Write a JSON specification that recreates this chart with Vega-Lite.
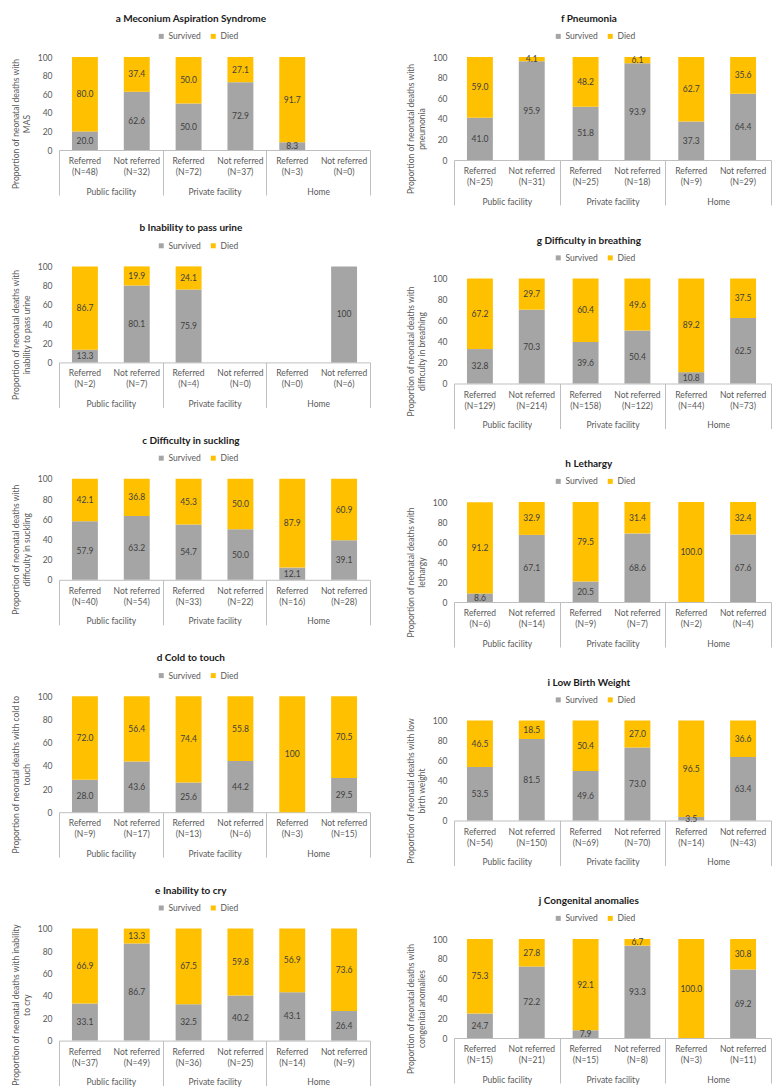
{
  "$schema": "https://vega.github.io/schema/vega-lite/v6.json",
  "padding": {"left": 11, "top": 14, "right": 5, "bottom": 5},
  "background": "white",
  "datasets": {
    "bars": [
      {"p": "a", "g": "Public facility", "r": "Referred", "o": "Survived", "v": 20.0},
      {"p": "a", "g": "Public facility", "r": "Referred", "o": "Died", "v": 80.0},
      {"p": "a", "g": "Public facility", "r": "Not referred", "o": "Survived", "v": 62.6},
      {"p": "a", "g": "Public facility", "r": "Not referred", "o": "Died", "v": 37.4},
      {"p": "a", "g": "Private facility", "r": "Referred", "o": "Survived", "v": 50.0},
      {"p": "a", "g": "Private facility", "r": "Referred", "o": "Died", "v": 50.0},
      {"p": "a", "g": "Private facility", "r": "Not referred", "o": "Survived", "v": 72.9},
      {"p": "a", "g": "Private facility", "r": "Not referred", "o": "Died", "v": 27.1},
      {"p": "a", "g": "Home", "r": "Referred", "o": "Survived", "v": 8.3},
      {"p": "a", "g": "Home", "r": "Referred", "o": "Died", "v": 91.7},

      {"p": "b", "g": "Public facility", "r": "Referred", "o": "Survived", "v": 13.3},
      {"p": "b", "g": "Public facility", "r": "Referred", "o": "Died", "v": 86.7},
      {"p": "b", "g": "Public facility", "r": "Not referred", "o": "Survived", "v": 80.1},
      {"p": "b", "g": "Public facility", "r": "Not referred", "o": "Died", "v": 19.9},
      {"p": "b", "g": "Private facility", "r": "Referred", "o": "Survived", "v": 75.9},
      {"p": "b", "g": "Private facility", "r": "Referred", "o": "Died", "v": 24.1},
      {"p": "b", "g": "Home", "r": "Not referred", "o": "Survived", "v": 100},

      {"p": "c", "g": "Public facility", "r": "Referred", "o": "Survived", "v": 57.9},
      {"p": "c", "g": "Public facility", "r": "Referred", "o": "Died", "v": 42.1},
      {"p": "c", "g": "Public facility", "r": "Not referred", "o": "Survived", "v": 63.2},
      {"p": "c", "g": "Public facility", "r": "Not referred", "o": "Died", "v": 36.8},
      {"p": "c", "g": "Private facility", "r": "Referred", "o": "Survived", "v": 54.7},
      {"p": "c", "g": "Private facility", "r": "Referred", "o": "Died", "v": 45.3},
      {"p": "c", "g": "Private facility", "r": "Not referred", "o": "Survived", "v": 50.0},
      {"p": "c", "g": "Private facility", "r": "Not referred", "o": "Died", "v": 50.0},
      {"p": "c", "g": "Home", "r": "Referred", "o": "Survived", "v": 12.1},
      {"p": "c", "g": "Home", "r": "Referred", "o": "Died", "v": 87.9},
      {"p": "c", "g": "Home", "r": "Not referred", "o": "Survived", "v": 39.1},
      {"p": "c", "g": "Home", "r": "Not referred", "o": "Died", "v": 60.9},

      {"p": "d", "g": "Public facility", "r": "Referred", "o": "Survived", "v": 28.0},
      {"p": "d", "g": "Public facility", "r": "Referred", "o": "Died", "v": 72.0},
      {"p": "d", "g": "Public facility", "r": "Not referred", "o": "Survived", "v": 43.6},
      {"p": "d", "g": "Public facility", "r": "Not referred", "o": "Died", "v": 56.4},
      {"p": "d", "g": "Private facility", "r": "Referred", "o": "Survived", "v": 25.6},
      {"p": "d", "g": "Private facility", "r": "Referred", "o": "Died", "v": 74.4},
      {"p": "d", "g": "Private facility", "r": "Not referred", "o": "Survived", "v": 44.2},
      {"p": "d", "g": "Private facility", "r": "Not referred", "o": "Died", "v": 55.8},
      {"p": "d", "g": "Home", "r": "Referred", "o": "Died", "v": 100},
      {"p": "d", "g": "Home", "r": "Not referred", "o": "Survived", "v": 29.5},
      {"p": "d", "g": "Home", "r": "Not referred", "o": "Died", "v": 70.5},

      {"p": "e", "g": "Public facility", "r": "Referred", "o": "Survived", "v": 33.1},
      {"p": "e", "g": "Public facility", "r": "Referred", "o": "Died", "v": 66.9},
      {"p": "e", "g": "Public facility", "r": "Not referred", "o": "Survived", "v": 86.7},
      {"p": "e", "g": "Public facility", "r": "Not referred", "o": "Died", "v": 13.3},
      {"p": "e", "g": "Private facility", "r": "Referred", "o": "Survived", "v": 32.5},
      {"p": "e", "g": "Private facility", "r": "Referred", "o": "Died", "v": 67.5},
      {"p": "e", "g": "Private facility", "r": "Not referred", "o": "Survived", "v": 40.2},
      {"p": "e", "g": "Private facility", "r": "Not referred", "o": "Died", "v": 59.8},
      {"p": "e", "g": "Home", "r": "Referred", "o": "Survived", "v": 43.1},
      {"p": "e", "g": "Home", "r": "Referred", "o": "Died", "v": 56.9},
      {"p": "e", "g": "Home", "r": "Not referred", "o": "Survived", "v": 26.4},
      {"p": "e", "g": "Home", "r": "Not referred", "o": "Died", "v": 73.6},

      {"p": "f", "g": "Public facility", "r": "Referred", "o": "Survived", "v": 41.0},
      {"p": "f", "g": "Public facility", "r": "Referred", "o": "Died", "v": 59.0},
      {"p": "f", "g": "Public facility", "r": "Not referred", "o": "Survived", "v": 95.9},
      {"p": "f", "g": "Public facility", "r": "Not referred", "o": "Died", "v": 4.1},
      {"p": "f", "g": "Private facility", "r": "Referred", "o": "Survived", "v": 51.8},
      {"p": "f", "g": "Private facility", "r": "Referred", "o": "Died", "v": 48.2},
      {"p": "f", "g": "Private facility", "r": "Not referred", "o": "Survived", "v": 93.9},
      {"p": "f", "g": "Private facility", "r": "Not referred", "o": "Died", "v": 6.1},
      {"p": "f", "g": "Home", "r": "Referred", "o": "Survived", "v": 37.3},
      {"p": "f", "g": "Home", "r": "Referred", "o": "Died", "v": 62.7},
      {"p": "f", "g": "Home", "r": "Not referred", "o": "Survived", "v": 64.4},
      {"p": "f", "g": "Home", "r": "Not referred", "o": "Died", "v": 35.6},

      {"p": "g", "g": "Public facility", "r": "Referred", "o": "Survived", "v": 32.8},
      {"p": "g", "g": "Public facility", "r": "Referred", "o": "Died", "v": 67.2},
      {"p": "g", "g": "Public facility", "r": "Not referred", "o": "Survived", "v": 70.3},
      {"p": "g", "g": "Public facility", "r": "Not referred", "o": "Died", "v": 29.7},
      {"p": "g", "g": "Private facility", "r": "Referred", "o": "Survived", "v": 39.6},
      {"p": "g", "g": "Private facility", "r": "Referred", "o": "Died", "v": 60.4},
      {"p": "g", "g": "Private facility", "r": "Not referred", "o": "Survived", "v": 50.4},
      {"p": "g", "g": "Private facility", "r": "Not referred", "o": "Died", "v": 49.6},
      {"p": "g", "g": "Home", "r": "Referred", "o": "Survived", "v": 10.8},
      {"p": "g", "g": "Home", "r": "Referred", "o": "Died", "v": 89.2},
      {"p": "g", "g": "Home", "r": "Not referred", "o": "Survived", "v": 62.5},
      {"p": "g", "g": "Home", "r": "Not referred", "o": "Died", "v": 37.5},

      {"p": "h", "g": "Public facility", "r": "Referred", "o": "Survived", "v": 8.6},
      {"p": "h", "g": "Public facility", "r": "Referred", "o": "Died", "v": 91.2},
      {"p": "h", "g": "Public facility", "r": "Not referred", "o": "Survived", "v": 67.1},
      {"p": "h", "g": "Public facility", "r": "Not referred", "o": "Died", "v": 32.9},
      {"p": "h", "g": "Private facility", "r": "Referred", "o": "Survived", "v": 20.5},
      {"p": "h", "g": "Private facility", "r": "Referred", "o": "Died", "v": 79.5},
      {"p": "h", "g": "Private facility", "r": "Not referred", "o": "Survived", "v": 68.6},
      {"p": "h", "g": "Private facility", "r": "Not referred", "o": "Died", "v": 31.4},
      {"p": "h", "g": "Home", "r": "Referred", "o": "Died", "v": 100.0},
      {"p": "h", "g": "Home", "r": "Not referred", "o": "Survived", "v": 67.6},
      {"p": "h", "g": "Home", "r": "Not referred", "o": "Died", "v": 32.4},

      {"p": "i", "g": "Public facility", "r": "Referred", "o": "Survived", "v": 53.5},
      {"p": "i", "g": "Public facility", "r": "Referred", "o": "Died", "v": 46.5},
      {"p": "i", "g": "Public facility", "r": "Not referred", "o": "Survived", "v": 81.5},
      {"p": "i", "g": "Public facility", "r": "Not referred", "o": "Died", "v": 18.5},
      {"p": "i", "g": "Private facility", "r": "Referred", "o": "Survived", "v": 49.6},
      {"p": "i", "g": "Private facility", "r": "Referred", "o": "Died", "v": 50.4},
      {"p": "i", "g": "Private facility", "r": "Not referred", "o": "Survived", "v": 73.0},
      {"p": "i", "g": "Private facility", "r": "Not referred", "o": "Died", "v": 27.0},
      {"p": "i", "g": "Home", "r": "Referred", "o": "Survived", "v": 3.5},
      {"p": "i", "g": "Home", "r": "Referred", "o": "Died", "v": 96.5},
      {"p": "i", "g": "Home", "r": "Not referred", "o": "Survived", "v": 63.4},
      {"p": "i", "g": "Home", "r": "Not referred", "o": "Died", "v": 36.6},

      {"p": "j", "g": "Public facility", "r": "Referred", "o": "Survived", "v": 24.7},
      {"p": "j", "g": "Public facility", "r": "Referred", "o": "Died", "v": 75.3},
      {"p": "j", "g": "Public facility", "r": "Not referred", "o": "Survived", "v": 72.2},
      {"p": "j", "g": "Public facility", "r": "Not referred", "o": "Died", "v": 27.8},
      {"p": "j", "g": "Private facility", "r": "Referred", "o": "Survived", "v": 7.9},
      {"p": "j", "g": "Private facility", "r": "Referred", "o": "Died", "v": 92.1},
      {"p": "j", "g": "Private facility", "r": "Not referred", "o": "Survived", "v": 93.3},
      {"p": "j", "g": "Private facility", "r": "Not referred", "o": "Died", "v": 6.7},
      {"p": "j", "g": "Home", "r": "Referred", "o": "Died", "v": 100.0},
      {"p": "j", "g": "Home", "r": "Not referred", "o": "Survived", "v": 69.2},
      {"p": "j", "g": "Home", "r": "Not referred", "o": "Died", "v": 30.8}
    ],
    "cats": [
      {"p": "a", "g": "Public facility", "r": "Referred", "lab": "Referred\n(N=48)"},
      {"p": "a", "g": "Public facility", "r": "Not referred", "lab": "Not referred\n(N=32)"},
      {"p": "a", "g": "Private facility", "r": "Referred", "lab": "Referred\n(N=72)"},
      {"p": "a", "g": "Private facility", "r": "Not referred", "lab": "Not referred\n(N=37)"},
      {"p": "a", "g": "Home", "r": "Referred", "lab": "Referred\n(N=3)"},
      {"p": "a", "g": "Home", "r": "Not referred", "lab": "Not referred\n(N=0)"},
      {"p": "b", "g": "Public facility", "r": "Referred", "lab": "Referred\n(N=2)"},
      {"p": "b", "g": "Public facility", "r": "Not referred", "lab": "Not referred\n(N=7)"},
      {"p": "b", "g": "Private facility", "r": "Referred", "lab": "Referred\n(N=4)"},
      {"p": "b", "g": "Private facility", "r": "Not referred", "lab": "Not referred\n(N=0)"},
      {"p": "b", "g": "Home", "r": "Referred", "lab": "Referred\n(N=0)"},
      {"p": "b", "g": "Home", "r": "Not referred", "lab": "Not referred\n(N=6)"},
      {"p": "c", "g": "Public facility", "r": "Referred", "lab": "Referred\n(N=40)"},
      {"p": "c", "g": "Public facility", "r": "Not referred", "lab": "Not referred\n(N=54)"},
      {"p": "c", "g": "Private facility", "r": "Referred", "lab": "Referred\n(N=33)"},
      {"p": "c", "g": "Private facility", "r": "Not referred", "lab": "Not referred\n(N=22)"},
      {"p": "c", "g": "Home", "r": "Referred", "lab": "Referred\n(N=16)"},
      {"p": "c", "g": "Home", "r": "Not referred", "lab": "Not referred\n(N=28)"},
      {"p": "d", "g": "Public facility", "r": "Referred", "lab": "Referred\n(N=9)"},
      {"p": "d", "g": "Public facility", "r": "Not referred", "lab": "Not referred\n(N=17)"},
      {"p": "d", "g": "Private facility", "r": "Referred", "lab": "Referred\n(N=13)"},
      {"p": "d", "g": "Private facility", "r": "Not referred", "lab": "Not referred\n(N=6)"},
      {"p": "d", "g": "Home", "r": "Referred", "lab": "Referred\n(N=3)"},
      {"p": "d", "g": "Home", "r": "Not referred", "lab": "Not referred\n(N=15)"},
      {"p": "e", "g": "Public facility", "r": "Referred", "lab": "Referred\n(N=37)"},
      {"p": "e", "g": "Public facility", "r": "Not referred", "lab": "Not referred\n(N=49)"},
      {"p": "e", "g": "Private facility", "r": "Referred", "lab": "Referred\n(N=36)"},
      {"p": "e", "g": "Private facility", "r": "Not referred", "lab": "Not referred\n(N=25)"},
      {"p": "e", "g": "Home", "r": "Referred", "lab": "Referred\n(N=14)"},
      {"p": "e", "g": "Home", "r": "Not referred", "lab": "Not referred\n(N=9)"},
      {"p": "f", "g": "Public facility", "r": "Referred", "lab": "Referred\n(N=25)"},
      {"p": "f", "g": "Public facility", "r": "Not referred", "lab": "Not referred\n(N=31)"},
      {"p": "f", "g": "Private facility", "r": "Referred", "lab": "Referred\n(N=25)"},
      {"p": "f", "g": "Private facility", "r": "Not referred", "lab": "Not referred\n(N=18)"},
      {"p": "f", "g": "Home", "r": "Referred", "lab": "Referred\n(N=9)"},
      {"p": "f", "g": "Home", "r": "Not referred", "lab": "Not referred\n(N=29)"},
      {"p": "g", "g": "Public facility", "r": "Referred", "lab": "Referred\n(N=129)"},
      {"p": "g", "g": "Public facility", "r": "Not referred", "lab": "Not referred\n(N=214)"},
      {"p": "g", "g": "Private facility", "r": "Referred", "lab": "Referred\n(N=158)"},
      {"p": "g", "g": "Private facility", "r": "Not referred", "lab": "Not referred\n(N=122)"},
      {"p": "g", "g": "Home", "r": "Referred", "lab": "Referred\n(N=44)"},
      {"p": "g", "g": "Home", "r": "Not referred", "lab": "Not referred\n(N=73)"},
      {"p": "h", "g": "Public facility", "r": "Referred", "lab": "Referred\n(N=6)"},
      {"p": "h", "g": "Public facility", "r": "Not referred", "lab": "Not referred\n(N=14)"},
      {"p": "h", "g": "Private facility", "r": "Referred", "lab": "Referred\n(N=9)"},
      {"p": "h", "g": "Private facility", "r": "Not referred", "lab": "Not referred\n(N=7)"},
      {"p": "h", "g": "Home", "r": "Referred", "lab": "Referred\n(N=2)"},
      {"p": "h", "g": "Home", "r": "Not referred", "lab": "Not referred\n(N=4)"},
      {"p": "i", "g": "Public facility", "r": "Referred", "lab": "Referred\n(N=54)"},
      {"p": "i", "g": "Public facility", "r": "Not referred", "lab": "Not referred\n(N=150)"},
      {"p": "i", "g": "Private facility", "r": "Referred", "lab": "Referred\n(N=69)"},
      {"p": "i", "g": "Private facility", "r": "Not referred", "lab": "Not referred\n(N=70)"},
      {"p": "i", "g": "Home", "r": "Referred", "lab": "Referred\n(N=14)"},
      {"p": "i", "g": "Home", "r": "Not referred", "lab": "Not referred\n(N=43)"},
      {"p": "j", "g": "Public facility", "r": "Referred", "lab": "Referred\n(N=15)"},
      {"p": "j", "g": "Public facility", "r": "Not referred", "lab": "Not referred\n(N=21)"},
      {"p": "j", "g": "Private facility", "r": "Referred", "lab": "Referred\n(N=15)"},
      {"p": "j", "g": "Private facility", "r": "Not referred", "lab": "Not referred\n(N=8)"},
      {"p": "j", "g": "Home", "r": "Referred", "lab": "Referred\n(N=3)"},
      {"p": "j", "g": "Home", "r": "Not referred", "lab": "Not referred\n(N=11)"}
    ]
  },
  "spacing": 35,
  "resolve": {"scale": {"color": "independent"}, "legend": {"color": "independent"}},
  "hconcat": [
    {
      "bounds": "flush",
      "spacing": 116.4,
      "resolve": {"scale": {"color": "independent"}, "legend": {"color": "independent"}},
      "vconcat": [
        {
          "title": "a  Meconium Aspiration Syndrome",
          "width": 311, "height": 93,
          "encoding": {
            "x": {"field": "g", "type": "nominal", "scale": {"domain": ["Public facility", "Private facility", "Home"], "paddingInner": 0, "paddingOuter": 0}},
            "xOffset": {"field": "r", "type": "nominal", "scale": {"domain": ["Referred", "Not referred"], "paddingInner": 0.5, "paddingOuter": 0.25}}
          },
          "layer": [
            {
              "data": {"name": "bars"}, "transform": [{"filter": "datum.p === 'a'"}],
              "mark": {"type": "bar"},
              "encoding": {
                "y": {"field": "v", "type": "quantitative", "stack": "zero", "scale": {"domain": [0, 100]}, "axis": {"values": [0, 20, 40, 60, 80, 100], "tickCount": 6, "labelOverlap": false, "title": ["Proportion of neonatal deaths with", "MAS"], "titleY": 66.5}},
                "color": {"field": "o", "type": "nominal", "scale": {"domain": ["Survived", "Died"], "range": ["#a5a5a5", "#ffc000"]}, "legend": {"legendX": 98}},
                "order": {"field": "o", "sort": "descending"}
              }
            },
            {
              "data": {"name": "bars"}, "transform": [{"filter": "datum.p === 'a'"}],
              "mark": {"type": "text", "fontSize": 8.5, "color": "#404040", "baseline": "middle"},
              "encoding": {
                "y": {"field": "v", "type": "quantitative", "stack": "zero", "bandPosition": 0.5},
                "detail": {"field": "o"},
                "order": {"field": "o", "sort": "descending"},
                "text": {"field": "v", "type": "quantitative", "format": ".1f"}
              }
            },
            {
              "data": {"name": "cats"}, "transform": [{"filter": "datum.p === 'a'"}],
              "mark": {"type": "text", "fontSize": 8.5, "color": "#595959", "baseline": "top", "lineBreak": "\n", "lineHeight": 11, "dy": 7},
              "encoding": {"y": {"datum": 0, "type": "quantitative"}, "text": {"field": "lab"}}
            }
          ]
        },
        {
          "title": "b  Inability to pass urine",
          "width": 311, "height": 96,
          "encoding": {
            "x": {"field": "g", "type": "nominal", "scale": {"domain": ["Public facility", "Private facility", "Home"], "paddingInner": 0, "paddingOuter": 0}},
            "xOffset": {"field": "r", "type": "nominal", "scale": {"domain": ["Referred", "Not referred"], "paddingInner": 0.5, "paddingOuter": 0.25}}
          },
          "layer": [
            {
              "data": {"name": "bars"}, "transform": [{"filter": "datum.p === 'b'"}],
              "mark": {"type": "bar"},
              "encoding": {
                "y": {"field": "v", "type": "quantitative", "stack": "zero", "scale": {"domain": [0, 100]}, "axis": {"values": [0, 20, 40, 60, 80, 100], "tickCount": 6, "labelOverlap": false, "title": ["Proportion of neonatal deaths with", "inability to pass urine"], "titleY": 68}},
                "color": {"field": "o", "type": "nominal", "scale": {"domain": ["Survived", "Died"], "range": ["#a5a5a5", "#ffc000"]}, "legend": {"legendX": 98}},
                "order": {"field": "o", "sort": "descending"}
              }
            },
            {
              "data": {"name": "bars"}, "transform": [{"filter": "datum.p === 'b'"}],
              "mark": {"type": "text", "fontSize": 8.5, "color": "#404040", "baseline": "middle"},
              "encoding": {
                "y": {"field": "v", "type": "quantitative", "stack": "zero", "bandPosition": 0.5},
                "detail": {"field": "o"},
                "order": {"field": "o", "sort": "descending"},
                "text": {"condition": {"test": "datum.v === 100", "field": "v", "type": "quantitative", "format": "d"}, "field": "v", "type": "quantitative", "format": ".1f"}
              }
            },
            {
              "data": {"name": "cats"}, "transform": [{"filter": "datum.p === 'b'"}],
              "mark": {"type": "text", "fontSize": 8.5, "color": "#595959", "baseline": "top", "lineBreak": "\n", "lineHeight": 11, "dy": 7},
              "encoding": {"y": {"datum": 0, "type": "quantitative"}, "text": {"field": "lab"}}
            }
          ]
        },
        {
          "title": "c  Difficulty in suckling",
          "width": 311, "height": 101,
          "encoding": {
            "x": {"field": "g", "type": "nominal", "scale": {"domain": ["Public facility", "Private facility", "Home"], "paddingInner": 0, "paddingOuter": 0}},
            "xOffset": {"field": "r", "type": "nominal", "scale": {"domain": ["Referred", "Not referred"], "paddingInner": 0.5, "paddingOuter": 0.25}}
          },
          "layer": [
            {
              "data": {"name": "bars"}, "transform": [{"filter": "datum.p === 'c'"}],
              "mark": {"type": "bar"},
              "encoding": {
                "y": {"field": "v", "type": "quantitative", "stack": "zero", "scale": {"domain": [0, 100]}, "axis": {"values": [0, 20, 40, 60, 80, 100], "tickCount": 6, "labelOverlap": false, "title": ["Proportion of neonatal deaths with", "difficulty in suckling"], "titleY": 70.5}},
                "color": {"field": "o", "type": "nominal", "scale": {"domain": ["Survived", "Died"], "range": ["#a5a5a5", "#ffc000"]}, "legend": {"legendX": 98}},
                "order": {"field": "o", "sort": "descending"}
              }
            },
            {
              "data": {"name": "bars"}, "transform": [{"filter": "datum.p === 'c'"}],
              "mark": {"type": "text", "fontSize": 8.5, "color": "#404040", "baseline": "middle"},
              "encoding": {
                "y": {"field": "v", "type": "quantitative", "stack": "zero", "bandPosition": 0.5},
                "detail": {"field": "o"},
                "order": {"field": "o", "sort": "descending"},
                "text": {"field": "v", "type": "quantitative", "format": ".1f"}
              }
            },
            {
              "data": {"name": "cats"}, "transform": [{"filter": "datum.p === 'c'"}],
              "mark": {"type": "text", "fontSize": 8.5, "color": "#595959", "baseline": "top", "lineBreak": "\n", "lineHeight": 11, "dy": 7},
              "encoding": {"y": {"datum": 0, "type": "quantitative"}, "text": {"field": "lab"}}
            }
          ]
        },
        {
          "title": "d  Cold to touch",
          "width": 311, "height": 116,
          "encoding": {
            "x": {"field": "g", "type": "nominal", "scale": {"domain": ["Public facility", "Private facility", "Home"], "paddingInner": 0, "paddingOuter": 0}},
            "xOffset": {"field": "r", "type": "nominal", "scale": {"domain": ["Referred", "Not referred"], "paddingInner": 0.5, "paddingOuter": 0.25}}
          },
          "layer": [
            {
              "data": {"name": "bars"}, "transform": [{"filter": "datum.p === 'd'"}],
              "mark": {"type": "bar"},
              "encoding": {
                "y": {"field": "v", "type": "quantitative", "stack": "zero", "scale": {"domain": [0, 100]}, "axis": {"values": [0, 20, 40, 60, 80, 100], "tickCount": 6, "labelOverlap": false, "title": ["Proportion of neonatal deaths with cold to", "touch"], "titleY": 78}},
                "color": {"field": "o", "type": "nominal", "scale": {"domain": ["Survived", "Died"], "range": ["#a5a5a5", "#ffc000"]}, "legend": {"legendX": 98}},
                "order": {"field": "o", "sort": "descending"}
              }
            },
            {
              "data": {"name": "bars"}, "transform": [{"filter": "datum.p === 'd'"}],
              "mark": {"type": "text", "fontSize": 8.5, "color": "#404040", "baseline": "middle"},
              "encoding": {
                "y": {"field": "v", "type": "quantitative", "stack": "zero", "bandPosition": 0.5},
                "detail": {"field": "o"},
                "order": {"field": "o", "sort": "descending"},
                "text": {"condition": {"test": "datum.v === 100", "field": "v", "type": "quantitative", "format": "d"}, "field": "v", "type": "quantitative", "format": ".1f"}
              }
            },
            {
              "data": {"name": "cats"}, "transform": [{"filter": "datum.p === 'd'"}],
              "mark": {"type": "text", "fontSize": 8.5, "color": "#595959", "baseline": "top", "lineBreak": "\n", "lineHeight": 11, "dy": 7},
              "encoding": {"y": {"datum": 0, "type": "quantitative"}, "text": {"field": "lab"}}
            }
          ]
        },
        {
          "title": "e  Inability to cry",
          "width": 311, "height": 112,
          "encoding": {
            "x": {"field": "g", "type": "nominal", "scale": {"domain": ["Public facility", "Private facility", "Home"], "paddingInner": 0, "paddingOuter": 0}},
            "xOffset": {"field": "r", "type": "nominal", "scale": {"domain": ["Referred", "Not referred"], "paddingInner": 0.5, "paddingOuter": 0.25}}
          },
          "layer": [
            {
              "data": {"name": "bars"}, "transform": [{"filter": "datum.p === 'e'"}],
              "mark": {"type": "bar"},
              "encoding": {
                "y": {"field": "v", "type": "quantitative", "stack": "zero", "scale": {"domain": [0, 100]}, "axis": {"values": [0, 20, 40, 60, 80, 100], "tickCount": 6, "labelOverlap": false, "title": ["Proportion of neonatal deaths with inability", "to cry"], "titleY": 76}},
                "color": {"field": "o", "type": "nominal", "scale": {"domain": ["Survived", "Died"], "range": ["#a5a5a5", "#ffc000"]}, "legend": {"legendX": 98}},
                "order": {"field": "o", "sort": "descending"}
              }
            },
            {
              "data": {"name": "bars"}, "transform": [{"filter": "datum.p === 'e'"}],
              "mark": {"type": "text", "fontSize": 8.5, "color": "#404040", "baseline": "middle"},
              "encoding": {
                "y": {"field": "v", "type": "quantitative", "stack": "zero", "bandPosition": 0.5},
                "detail": {"field": "o"},
                "order": {"field": "o", "sort": "descending"},
                "text": {"field": "v", "type": "quantitative", "format": ".1f"}
              }
            },
            {
              "data": {"name": "cats"}, "transform": [{"filter": "datum.p === 'e'"}],
              "mark": {"type": "text", "fontSize": 8.5, "color": "#595959", "baseline": "top", "lineBreak": "\n", "lineHeight": 11, "dy": 7},
              "encoding": {"y": {"datum": 0, "type": "quantitative"}, "text": {"field": "lab"}}
            }
          ]
        }
      ]
    },
    {
      "bounds": "flush",
      "spacing": 118.5,
      "resolve": {"scale": {"color": "independent"}, "legend": {"color": "independent"}},
      "vconcat": [
        {
          "title": "f  Pneumonia",
          "width": 317, "height": 103,
          "encoding": {
            "x": {"field": "g", "type": "nominal", "scale": {"domain": ["Public facility", "Private facility", "Home"], "paddingInner": 0, "paddingOuter": 0}},
            "xOffset": {"field": "r", "type": "nominal", "scale": {"domain": ["Referred", "Not referred"], "paddingInner": 0.5, "paddingOuter": 0.25}}
          },
          "layer": [
            {
              "data": {"name": "bars"}, "transform": [{"filter": "datum.p === 'f'"}],
              "mark": {"type": "bar"},
              "encoding": {
                "y": {"field": "v", "type": "quantitative", "stack": "zero", "scale": {"domain": [0, 100]}, "axis": {"values": [0, 20, 40, 60, 80, 100], "tickCount": 6, "labelOverlap": false, "title": ["Proportion of neonatal deaths with", "pneumonia"], "titleY": 71.5}},
                "color": {"field": "o", "type": "nominal", "scale": {"domain": ["Survived", "Died"], "range": ["#a5a5a5", "#ffc000"]}, "legend": {"legendX": 100}},
                "order": {"field": "o", "sort": "descending"}
              }
            },
            {
              "data": {"name": "bars"}, "transform": [{"filter": "datum.p === 'f'"}],
              "mark": {"type": "text", "fontSize": 8.5, "color": "#404040", "baseline": "middle"},
              "encoding": {
                "y": {"field": "v", "type": "quantitative", "stack": "zero", "bandPosition": 0.5},
                "detail": {"field": "o"},
                "order": {"field": "o", "sort": "descending"},
                "text": {"field": "v", "type": "quantitative", "format": ".1f"}
              }
            },
            {
              "data": {"name": "cats"}, "transform": [{"filter": "datum.p === 'f'"}],
              "mark": {"type": "text", "fontSize": 8.5, "color": "#595959", "baseline": "top", "lineBreak": "\n", "lineHeight": 11, "dy": 7},
              "encoding": {"y": {"datum": 0, "type": "quantitative"}, "text": {"field": "lab"}}
            }
          ]
        },
        {
          "title": "g  Difficulty in breathing",
          "width": 317, "height": 105,
          "encoding": {
            "x": {"field": "g", "type": "nominal", "scale": {"domain": ["Public facility", "Private facility", "Home"], "paddingInner": 0, "paddingOuter": 0}},
            "xOffset": {"field": "r", "type": "nominal", "scale": {"domain": ["Referred", "Not referred"], "paddingInner": 0.5, "paddingOuter": 0.25}}
          },
          "layer": [
            {
              "data": {"name": "bars"}, "transform": [{"filter": "datum.p === 'g'"}],
              "mark": {"type": "bar"},
              "encoding": {
                "y": {"field": "v", "type": "quantitative", "stack": "zero", "scale": {"domain": [0, 100]}, "axis": {"values": [0, 20, 40, 60, 80, 100], "tickCount": 6, "labelOverlap": false, "title": ["Proportion of neonatal deaths with", "difficulty in breathing"], "titleY": 72.5}},
                "color": {"field": "o", "type": "nominal", "scale": {"domain": ["Survived", "Died"], "range": ["#a5a5a5", "#ffc000"]}, "legend": {"legendX": 100}},
                "order": {"field": "o", "sort": "descending"}
              }
            },
            {
              "data": {"name": "bars"}, "transform": [{"filter": "datum.p === 'g'"}],
              "mark": {"type": "text", "fontSize": 8.5, "color": "#404040", "baseline": "middle"},
              "encoding": {
                "y": {"field": "v", "type": "quantitative", "stack": "zero", "bandPosition": 0.5},
                "detail": {"field": "o"},
                "order": {"field": "o", "sort": "descending"},
                "text": {"field": "v", "type": "quantitative", "format": ".1f"}
              }
            },
            {
              "data": {"name": "cats"}, "transform": [{"filter": "datum.p === 'g'"}],
              "mark": {"type": "text", "fontSize": 8.5, "color": "#595959", "baseline": "top", "lineBreak": "\n", "lineHeight": 11, "dy": 7},
              "encoding": {"y": {"datum": 0, "type": "quantitative"}, "text": {"field": "lab"}}
            }
          ]
        },
        {
          "title": "h  Lethargy",
          "width": 317, "height": 100,
          "encoding": {
            "x": {"field": "g", "type": "nominal", "scale": {"domain": ["Public facility", "Private facility", "Home"], "paddingInner": 0, "paddingOuter": 0}},
            "xOffset": {"field": "r", "type": "nominal", "scale": {"domain": ["Referred", "Not referred"], "paddingInner": 0.5, "paddingOuter": 0.25}}
          },
          "layer": [
            {
              "data": {"name": "bars"}, "transform": [{"filter": "datum.p === 'h'"}],
              "mark": {"type": "bar"},
              "encoding": {
                "y": {"field": "v", "type": "quantitative", "stack": "zero", "scale": {"domain": [0, 100]}, "axis": {"values": [0, 20, 40, 60, 80, 100], "tickCount": 6, "labelOverlap": false, "title": ["Proportion of neonatal deaths with", "lethargy"], "titleY": 70}},
                "color": {"field": "o", "type": "nominal", "scale": {"domain": ["Survived", "Died"], "range": ["#a5a5a5", "#ffc000"]}, "legend": {"legendX": 100}},
                "order": {"field": "o", "sort": "descending"}
              }
            },
            {
              "data": {"name": "bars"}, "transform": [{"filter": "datum.p === 'h'"}],
              "mark": {"type": "text", "fontSize": 8.5, "color": "#404040", "baseline": "middle"},
              "encoding": {
                "y": {"field": "v", "type": "quantitative", "stack": "zero", "bandPosition": 0.5},
                "detail": {"field": "o"},
                "order": {"field": "o", "sort": "descending"},
                "text": {"field": "v", "type": "quantitative", "format": ".1f"}
              }
            },
            {
              "data": {"name": "cats"}, "transform": [{"filter": "datum.p === 'h'"}],
              "mark": {"type": "text", "fontSize": 8.5, "color": "#595959", "baseline": "top", "lineBreak": "\n", "lineHeight": 11, "dy": 7},
              "encoding": {"y": {"datum": 0, "type": "quantitative"}, "text": {"field": "lab"}}
            }
          ]
        },
        {
          "title": "i  Low Birth Weight",
          "width": 317, "height": 100,
          "encoding": {
            "x": {"field": "g", "type": "nominal", "scale": {"domain": ["Public facility", "Private facility", "Home"], "paddingInner": 0, "paddingOuter": 0}},
            "xOffset": {"field": "r", "type": "nominal", "scale": {"domain": ["Referred", "Not referred"], "paddingInner": 0.5, "paddingOuter": 0.25}}
          },
          "layer": [
            {
              "data": {"name": "bars"}, "transform": [{"filter": "datum.p === 'i'"}],
              "mark": {"type": "bar"},
              "encoding": {
                "y": {"field": "v", "type": "quantitative", "stack": "zero", "scale": {"domain": [0, 100]}, "axis": {"values": [0, 20, 40, 60, 80, 100], "tickCount": 6, "labelOverlap": false, "title": ["Proportion of neonatal deaths with low", "birth weight"], "titleY": 70}},
                "color": {"field": "o", "type": "nominal", "scale": {"domain": ["Survived", "Died"], "range": ["#a5a5a5", "#ffc000"]}, "legend": {"legendX": 100}},
                "order": {"field": "o", "sort": "descending"}
              }
            },
            {
              "data": {"name": "bars"}, "transform": [{"filter": "datum.p === 'i'"}],
              "mark": {"type": "text", "fontSize": 8.5, "color": "#404040", "baseline": "middle"},
              "encoding": {
                "y": {"field": "v", "type": "quantitative", "stack": "zero", "bandPosition": 0.5},
                "detail": {"field": "o"},
                "order": {"field": "o", "sort": "descending"},
                "text": {"field": "v", "type": "quantitative", "format": ".1f"}
              }
            },
            {
              "data": {"name": "cats"}, "transform": [{"filter": "datum.p === 'i'"}],
              "mark": {"type": "text", "fontSize": 8.5, "color": "#595959", "baseline": "top", "lineBreak": "\n", "lineHeight": 11, "dy": 7},
              "encoding": {"y": {"datum": 0, "type": "quantitative"}, "text": {"field": "lab"}}
            }
          ]
        },
        {
          "title": "j  Congenital anomalies",
          "width": 317, "height": 99,
          "encoding": {
            "x": {"field": "g", "type": "nominal", "scale": {"domain": ["Public facility", "Private facility", "Home"], "paddingInner": 0, "paddingOuter": 0}},
            "xOffset": {"field": "r", "type": "nominal", "scale": {"domain": ["Referred", "Not referred"], "paddingInner": 0.5, "paddingOuter": 0.25}}
          },
          "layer": [
            {
              "data": {"name": "bars"}, "transform": [{"filter": "datum.p === 'j'"}],
              "mark": {"type": "bar"},
              "encoding": {
                "y": {"field": "v", "type": "quantitative", "stack": "zero", "scale": {"domain": [0, 100]}, "axis": {"values": [0, 20, 40, 60, 80, 100], "tickCount": 6, "labelOverlap": false, "title": ["Proportion of neonatal deaths with", "congenital anomalies"], "titleY": 69.5}},
                "color": {"field": "o", "type": "nominal", "scale": {"domain": ["Survived", "Died"], "range": ["#a5a5a5", "#ffc000"]}, "legend": {"legendX": 100}},
                "order": {"field": "o", "sort": "descending"}
              }
            },
            {
              "data": {"name": "bars"}, "transform": [{"filter": "datum.p === 'j'"}],
              "mark": {"type": "text", "fontSize": 8.5, "color": "#404040", "baseline": "middle"},
              "encoding": {
                "y": {"field": "v", "type": "quantitative", "stack": "zero", "bandPosition": 0.5},
                "detail": {"field": "o"},
                "order": {"field": "o", "sort": "descending"},
                "text": {"field": "v", "type": "quantitative", "format": ".1f"}
              }
            },
            {
              "data": {"name": "cats"}, "transform": [{"filter": "datum.p === 'j'"}],
              "mark": {"type": "text", "fontSize": 8.5, "color": "#595959", "baseline": "top", "lineBreak": "\n", "lineHeight": 11, "dy": 7},
              "encoding": {"y": {"datum": 0, "type": "quantitative"}, "text": {"field": "lab"}}
            }
          ]
        }
      ]
    }
  ],
  "config": {
    "font": "Lato",
    "view": {"stroke": null},
    "axisX": {
      "title": null, "labelAngle": 0, "labelFontSize": 8.5, "labelColor": "#595959",
      "domainColor": "#bfbfbf", "tickColor": "#bfbfbf", "tickBand": "extent", "tickSize": 45,
      "labelPadding": -8, "labelBaseline": "top"
    },
    "axisY": {
      "domain": false, "ticks": false, "grid": false, "labelOverlap": false, "labelBound": false,
      "labelFontSize": 8.5, "labelColor": "#595959", "labelPadding": 7,
      "titleFontSize": 8.5, "titleFontWeight": "normal", "titleColor": "#595959", "titlePadding": 6, "titleLineHeight": 11
    },
    "legend": {
      "orient": "none", "direction": "horizontal", "title": null, "legendY": -25,
      "symbolType": "square", "symbolSize": 25, "symbolStrokeWidth": 0, "labelFontSize": 8.5,
      "labelColor": "#595959", "labelOffset": 3, "columnPadding": 8
    },
    "title": {"fontSize": 10, "fontWeight": "bold", "color": "#1a1a1a", "anchor": "middle", "frame": "bounds", "offset": 8}
  }
}
